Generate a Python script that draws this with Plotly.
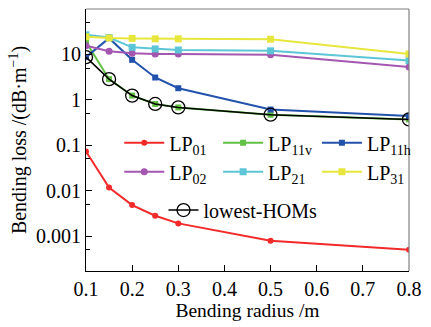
import plotly.graph_objects as go

radius = [0.1, 0.15, 0.2, 0.25, 0.3, 0.5, 0.8]
lp01 = [0.073, 0.0117, 0.0048, 0.0028, 0.0019, 0.00079, 0.0005]
lp11v = [19, 2.85, 1.24, 0.81, 0.68, 0.47, 0.37]
lp11h = [8.7, 22.8, 7.6, 3.1, 1.8, 0.61, 0.44]
lp02 = [15.5, 11.7, 10.6, 10.2, 10.2, 9.8, 5.3]
lp21 = [27, 23.6, 14.3, 13.2, 12.5, 12.0, 7.3]
lp31 = [24.5, 23.0, 22.5, 22.0, 22.0, 21.6, 10.2]
lowest = [8.7, 2.85, 1.24, 0.81, 0.68, 0.47, 0.37]

FONT = "Liberation Serif"

series = [
    ("LP<sub>01</sub>", lp01, "#f22a2a", "circle", 6),
    ("LP<sub>11v</sub>", lp11v, "#62c044", "square", 6),
    ("LP<sub>11h</sub>", lp11h, "#2352ad", "square", 6),
    ("LP<sub>02</sub>", lp02, "#a457b0", "circle", 7),
    ("LP<sub>21</sub>", lp21, "#5cc6d6", "square", 7),
    ("LP<sub>31</sub>", lp31, "#e6e63c", "square", 7),
]

fig = go.Figure()
for name, vals, col, sym, sz in series:
    fig.add_trace(go.Scatter(
        x=radius, y=vals, mode="lines+markers", name=name,
        line=dict(color=col, width=2),
        marker=dict(symbol=sym, size=sz, color=col),
        legend="legend",
    ))
fig.add_trace(go.Scatter(
    x=radius, y=lowest, mode="lines+markers", name="lowest-HOMs",
    line=dict(color="black", width=1.5),
    marker=dict(symbol="circle-open", size=13, color="black", line=dict(width=1.3)),
    legend="legend2",
))

fig.update_layout(
    width=431, height=327,
    margin=dict(l=86, r=14, t=9, b=51),
    paper_bgcolor="white", plot_bgcolor="white",
    font=dict(family=FONT, size=19, color="black"),
    showlegend=True,
    legend=dict(
        x=0.103, y=0.564, xanchor="left", yanchor="top",
        orientation="h",
        bgcolor="rgba(0,0,0,0)", font=dict(family=FONT, size=20),
        itemwidth=40, tracegroupgap=0,
    ),
    legend2=dict(
        x=0.24, y=0.307, xanchor="left", yanchor="top",
        bgcolor="rgba(0,0,0,0)", font=dict(family=FONT, size=20),
    ),
    xaxis=dict(
        range=[0.1, 0.8], tickvals=[0.1, 0.2, 0.3, 0.4, 0.5, 0.6, 0.7, 0.8],
        ticktext=["0.1", "0.2", "0.3", "0.4", "0.5", "0.6", "0.7", "0.8"],
        ticks="inside", ticklen=6, tickcolor="black", showline=True,
        linecolor="black", linewidth=1.2, showgrid=False, zeroline=False,
        title=dict(text="Bending radius /m", font=dict(size=19.5), standoff=4),
        tickfont=dict(size=20),
    ),
    yaxis=dict(
        type="log", range=[-3.77, 2.0],
        tickvals=[0.001, 0.01, 0.1, 1, 10],
        ticktext=["0.001", "0.01", "0.1", "1", "10"],
        ticks="inside", ticklen=6, tickcolor="black", showline=True,
        linecolor="black", linewidth=1.2, showgrid=False, zeroline=False,
        minor=dict(tickmode="array", tickvals=[0.0005, 0.005, 0.05, 0.5, 5, 50],
                   ticks="inside", ticklen=4, tickcolor="black"),
        title=dict(text="Bending loss /(dB·m<sup>−1</sup>)", font=dict(size=20), standoff=3),
        tickfont=dict(size=20),
    ),
    shapes=[
        dict(type="line", xref="paper", yref="paper", x0=0, x1=1, y0=1, y1=1,
             line=dict(color="#808080", width=1.2)),
        dict(type="line", xref="paper", yref="paper", x0=1, x1=1, y0=0, y1=1,
             line=dict(color="#808080", width=1.2)),
    ],
)

fig.write_html("out.html")
